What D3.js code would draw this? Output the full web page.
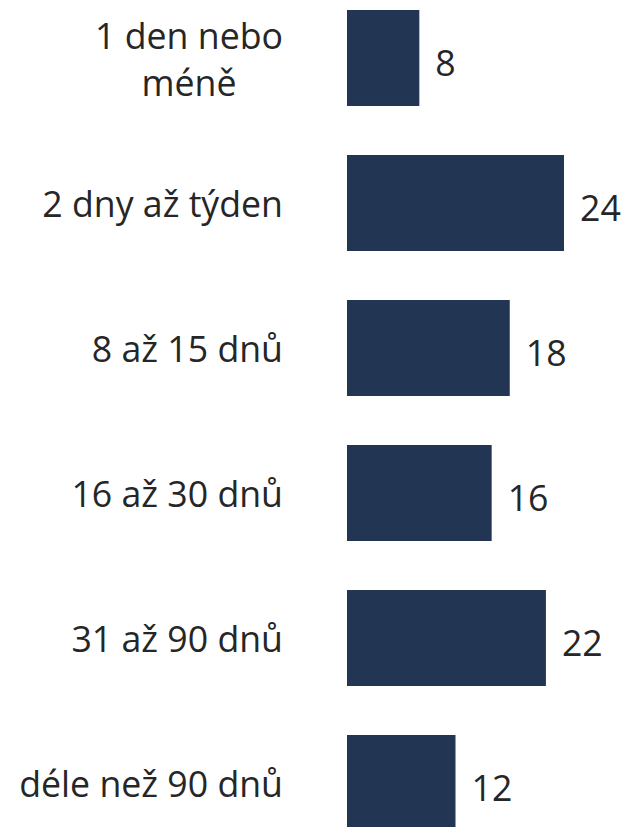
<!DOCTYPE html>
<html>
<head>
<meta charset="utf-8">
<script src="https://cdn.jsdelivr.net/npm/d3@7"></script>
<style>
  html, body { margin: 0; padding: 0; background: #ffffff; }
  svg { display: block; }
</style>
</head>
<body>
<svg id="chart" width="626" height="827"></svg>
<script>
// Duration categories (line breaks mark how long labels wrap)
const categories = ["1 den nebo\nméně", "2 dny až týden", "8 až 15 dnů", "16 až 30 dnů", "31 až 90 dnů", "déle než 90 dnů"];
const values = [8, 24, 18, 16, 22, 12];

const W = 626, H = 827;
const barLeft = 347;
const labelRight = 283;
const fontFamily = "'Open Sans', 'Noto Sans', sans-serif";
const fontSize = 35.7;
const barColor = "#223653";
const textColor = "#262626";

const svg = d3.select("#chart");

const y = d3.scaleBand()
  .domain(categories)
  .range([10, 831])
  .paddingInner(49 / 145)
  .paddingOuter(0);

const x = d3.scaleLinear()
  .domain([0, 24])
  .range([barLeft, barLeft + 217]);

const rows = svg.selectAll("g.row")
  .data(categories.map((c, i) => ({ cat: c, val: values[i] })))
  .join("g")
  .attr("class", "row");

rows.append("rect")
  .attr("x", x(0))
  .attr("y", d => y(d.cat))
  .attr("width", d => x(d.val) - x(0))
  .attr("height", y.bandwidth())
  .attr("fill", barColor);

rows.append("text")
  .attr("x", d => x(d.val) + 16)
  .attr("y", d => y(d.cat) + y.bandwidth() / 2 + 4)
  .attr("dominant-baseline", "central")
  .attr("font-family", fontFamily)
  .attr("font-size", fontSize)
  .attr("fill", textColor)
  .text(d => d.val);

// Category labels: single lines right-aligned; wrapped lines centred on each other
rows.each(function (d) {
  const g = d3.select(this);
  const lines = d.cat.split("\n");
  const lineH = 47;
  const cy = y(d.cat) + y.bandwidth() / 2;
  const texts = lines.map((ln, i) => g.append("text")
    .attr("y", cy + (i - (lines.length - 1) / 2) * lineH)
    .attr("dominant-baseline", "central")
    .attr("font-family", fontFamily)
    .attr("font-size", fontSize)
    .attr("fill", textColor)
    .text(ln));
  const widths = texts.map(t => t.node().getComputedTextLength());
  const maxW = d3.max(widths);
  const centre = labelRight - maxW / 2;
  texts.forEach(t => t.attr("x", centre).attr("text-anchor", "middle"));
});
</script>
</body>
</html>
